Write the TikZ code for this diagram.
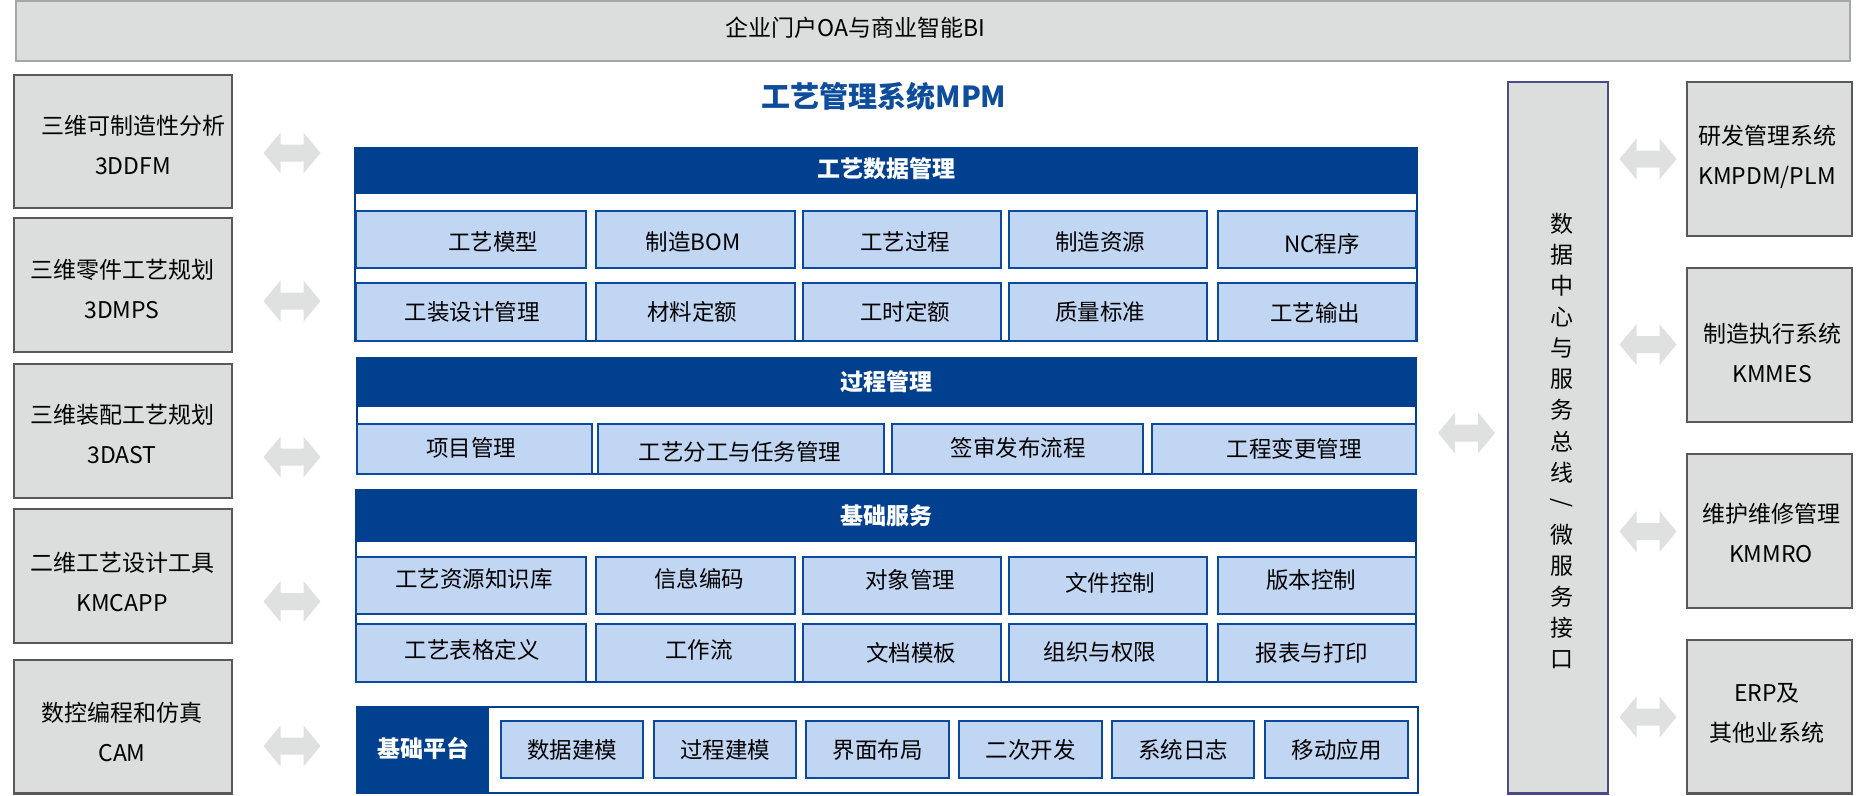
\documentclass[tikz,border=0pt]{standalone}
\usepackage{fontspec}
\setmainfont{Noto Sans CJK SC}
\definecolor{hdr}{HTML}{00408F}
\definecolor{cellfill}{HTML}{C1D6F3}
\definecolor{cellborder}{HTML}{0B4A9C}
\definecolor{gfill}{HTML}{DCDDDD}
\definecolor{gborder}{HTML}{595959}
\definecolor{topborder}{HTML}{A6A6A6}
\definecolor{busborder}{HTML}{4B4B8C}
\definecolor{arrowfill}{HTML}{DFE0E0}
\definecolor{titleblue}{HTML}{0E4C9C}
\newcommand\rbox[6]{\node[#2,minimum width={#5-#3},minimum height={#6-#4}] (#1) at ({(#3+#5)/2},{(#4+#6)/2}) {};}
\newcommand\darrow[3]{%
  \coordinate (#1) at (#2,#3);
  \fill[arrowfill] ($(#1)+(-28.5,0)$) -- ++(17,-20.5) -- ++(0,12) -- ++(23,0) -- ++(0,-12) -- ++(17,20.5)
    -- ++(-17,20.5) -- ++(0,-12) -- ++(-23,0) -- ++(0,12) -- cycle;}
\usetikzlibrary{calc}
\begin{document}
\begin{tikzpicture}[x=1pt,y=-1pt,
  every node/.style={inner sep=0pt,outer sep=0pt},
  graybox/.style={draw=gborder,line width=2.5pt,fill=gfill},
  topbox/.style={draw=topborder,line width=2pt,fill=gfill},
  busbox/.style={draw=busborder,line width=2.5pt,fill=gfill},
  secbox/.style={draw=hdr,line width=2.5pt,fill=white},
  hdrbox/.style={fill=hdr},
  cellbox/.style={draw=cellborder,line width=2.5pt,fill=cellfill},
  txt/.style={font=\fontsize{23}{40}\selectfont,align=center,text=black},
  ctxt/.style={font=\fontsize{22.5}{27}\selectfont,align=center,text=black},
  htxt/.style={font=\bfseries\fontsize{23}{27}\selectfont,text=white},
]
\useasboundingbox (0,0) rectangle (1860,795);

% top bar
\rbox{top}{topbox}{16}{1}{1850}{61}
\node[txt] (toptext) at (855,28) {企业门户OA与商业智能BI};

% title
\node[font=\bfseries\fontsize{29}{32}\selectfont,text=titleblue] (title) at (884,96) {工艺管理系统MPM};

% left boxes
\rbox{L1}{graybox}{14}{75}{232}{208}
\rbox{L2}{graybox}{14}{218}{232}{352}
\rbox{L3}{graybox}{14}{364}{232}{498}
\rbox{L4}{graybox}{14}{509}{232}{643}
\rbox{L5}{graybox}{14}{660}{232}{793.5}
\node[txt] (L1t) at (133,145) {三维可制造性分析\\3DDFM};
\node[txt] (L2t) at (122,289) {三维零件工艺规划\\3DMPS};
\node[txt] (L3t) at (122,433.5) {三维装配工艺规划\\3DAST};
\node[txt] (L4t) at (122,582) {二维工艺设计工具\\KMCAPP};
\node[txt] (L5t) at (122,732) {数控编程和仿真\\CAM};

% right boxes
\rbox{R1}{graybox}{1687}{82}{1852}{236}
\rbox{R2}{graybox}{1687}{268}{1852}{422}
\rbox{R3}{graybox}{1687}{454}{1852}{608}
\rbox{R4}{graybox}{1687}{640}{1852}{793.5}
\node[txt] (R1t) at (1767,157) {研发管理系统\\KMPDM/PLM};
\node[txt] (R2t) at (1772,353) {制造执行系统\\KMMES};
\node[txt] (R3t) at (1771,532.5) {维护维修管理\\KMMRO};
\node[txt] (R4t) at (1767,713) {ERP及\\其他业系统};

% data bus
\rbox{bus}{busbox}{1508}{82}{1608}{793.5}
\node[font=\fontsize{23}{31.1}\selectfont,align=center] (bust) at (1562,441)
  {数\\据\\中\\心\\与\\服\\务\\总\\线\\\raisebox{14pt}{\rotatebox{-90}{/}}\\微\\服\\务\\接\\口};

% arrows
\darrow{aL1}{292}{153}
\darrow{aL2}{292}{301}
\darrow{aL3}{292}{457}
\darrow{aL4}{292}{601.5}
\darrow{aL5}{292}{746}
\darrow{aM}{1466.5}{433}
\darrow{aR1}{1648}{159}
\darrow{aR2}{1648}{344.5}
\darrow{aR3}{1648}{531.5}
\darrow{aR4}{1648}{717}

% section 1
\rbox{S1}{secbox}{355}{148}{1417}{341}
\rbox{S1h}{hdrbox}{355}{148}{1417}{194}
\node[htxt] (S1ht) at (886,169) {工艺数据管理};
\rbox{c11}{cellbox}{356}{211}{586}{268}
\rbox{c12}{cellbox}{596}{211}{795}{268}
\rbox{c13}{cellbox}{803}{211}{1001}{268}
\rbox{c14}{cellbox}{1009}{211}{1207}{268}
\rbox{c15}{cellbox}{1218}{211}{1416}{268}
\rbox{c21}{cellbox}{356}{283}{586}{341}
\rbox{c22}{cellbox}{596}{283}{795}{341}
\rbox{c23}{cellbox}{803}{283}{1001}{341}
\rbox{c24}{cellbox}{1009}{283}{1207}{341}
\rbox{c25}{cellbox}{1218}{283}{1416}{341}
\node[ctxt] (t11) at (493,242) {工艺模型};
\node[ctxt] (t12) at (693,242) {制造BOM};
\node[ctxt] (t13) at (905,242) {工艺过程};
\node[ctxt] (t14) at (1100,242) {制造资源};
\node[ctxt] (t15) at (1322,244) {NC程序};
\node[ctxt] (t21) at (472,312) {工装设计管理};
\node[ctxt] (t22) at (692,312) {材料定额};
\node[ctxt] (t23) at (905,312) {工时定额};
\node[ctxt] (t24) at (1100,312) {质量标准};
\node[ctxt] (t25) at (1315,313) {工艺输出};

% section 2
\rbox{S2}{secbox}{357}{358}{1416}{474}
\rbox{S2h}{hdrbox}{357}{358}{1416}{407}
\node[htxt] (S2ht) at (886,382) {过程管理};
\rbox{p1}{cellbox}{357}{424}{592}{474}
\rbox{p2}{cellbox}{598}{424}{884}{474}
\rbox{p3}{cellbox}{892}{424}{1143}{474}
\rbox{p4}{cellbox}{1152}{424}{1416}{474}
\node[ctxt] (pt1) at (471,448) {项目管理};
\node[ctxt] (pt2) at (740,452) {工艺分工与任务管理};
\node[ctxt] (pt3) at (1018,448) {签审发布流程};
\node[ctxt] (pt4) at (1294,449) {工程变更管理};

% section 3
\rbox{S3}{secbox}{356}{490}{1416}{682}
\rbox{S3h}{hdrbox}{356}{490}{1416}{542}
\node[htxt] (S3ht) at (886,516) {基础服务};
\rbox{b11}{cellbox}{356}{557}{586}{614}
\rbox{b12}{cellbox}{596}{557}{795}{614}
\rbox{b13}{cellbox}{803}{557}{1001}{614}
\rbox{b14}{cellbox}{1009}{557}{1207}{614}
\rbox{b15}{cellbox}{1218}{557}{1416}{614}
\rbox{b21}{cellbox}{356}{624}{586}{682}
\rbox{b22}{cellbox}{596}{624}{795}{682}
\rbox{b23}{cellbox}{803}{624}{1001}{682}
\rbox{b24}{cellbox}{1009}{624}{1207}{682}
\rbox{b25}{cellbox}{1218}{624}{1416}{682}
\node[ctxt] (bt11) at (474,579) {工艺资源知识库};
\node[ctxt] (bt12) at (699,579) {信息编码};
\node[ctxt] (bt13) at (910,580) {对象管理};
\node[ctxt] (bt14) at (1110,583) {文件控制};
\node[ctxt] (bt15) at (1311,580) {版本控制};
\node[ctxt] (bt21) at (472,650) {工艺表格定义};
\node[ctxt] (bt22) at (699,650) {工作流};
\node[ctxt] (bt23) at (911,653) {文档模板};
\node[ctxt] (bt24) at (1100,652) {组织与权限};
\node[ctxt] (bt25) at (1312,653) {报表与打印};

% platform
\rbox{S4}{secbox}{357}{707}{1418}{793}
\rbox{S4h}{hdrbox}{357}{707}{489}{793}
\node[htxt] (S4ht) at (423,748) {基础平台};
\rbox{f1}{cellbox}{501}{721}{643}{778}
\rbox{f2}{cellbox}{654}{721}{796}{778}
\rbox{f3}{cellbox}{806}{721}{949}{778}
\rbox{f4}{cellbox}{959}{721}{1102}{778}
\rbox{f5}{cellbox}{1112}{721}{1254}{778}
\rbox{f6}{cellbox}{1265}{721}{1408}{778}
\node[ctxt] (ft1) at (f1) {数据建模};
\node[ctxt] (ft2) at (f2) {过程建模};
\node[ctxt] (ft3) at (f3) {界面布局};
\node[ctxt] (ft4) at (f4) {二次开发};
\node[ctxt] (ft5) at (f5) {系统日志};
\node[ctxt] (ft6) at (f6) {移动应用};
\end{tikzpicture}
\end{document}
